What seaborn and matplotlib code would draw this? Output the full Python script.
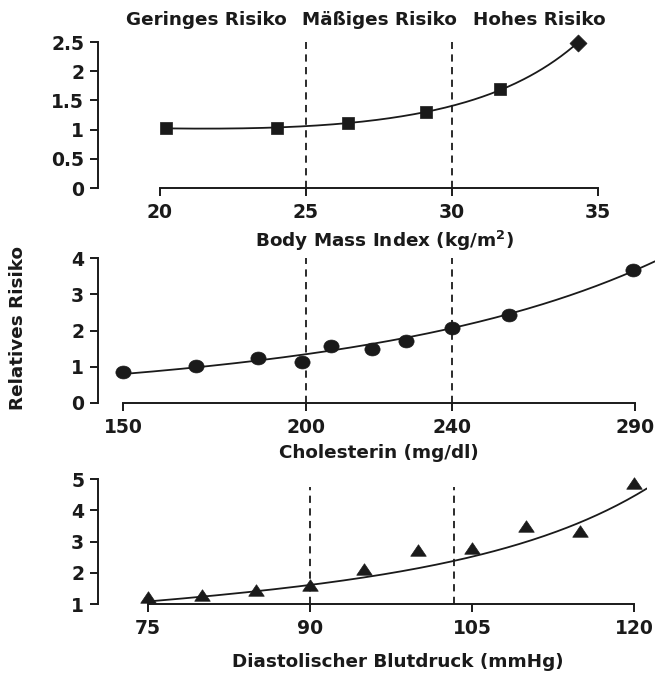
import numpy as np
import pandas as pd
import matplotlib
matplotlib.use("Agg")
import matplotlib.pyplot as plt
import matplotlib.transforms as mtransforms
from matplotlib.path import Path
from matplotlib.ticker import FuncFormatter
import seaborn as sns

# ---------------- data ----------------
bmi_x = [20.2, 24.0, 26.45, 29.1, 31.65, 34.3]
bmi_rr = [1.02, 1.03, 1.11, 1.30, 1.69, 2.48]
bmi_marker = ["s", "s", "s", "s", "s", "D"]
bmi_fit_x = [20.2, 24.0, 25.0, 26.45, 29.1, 30.0, 31.65, 34.3]
bmi_fit_y = [1.02, 1.04, 1.06, 1.11, 1.30, 1.40, 1.69, 2.48]
bmi_cut = [25, 30]
bmi_ticks = [20, 25, 30, 35]
bmi_yticks = [0, 0.5, 1, 1.5, 2, 2.5]

chol_x = [150, 170, 187, 199, 207, 218, 227.5, 240, 255.5, 289.5]
chol_rr = [0.85, 1.01, 1.23, 1.12, 1.56, 1.48, 1.70, 2.08, 2.44, 3.67]
chol_fit_x = [150, 200, 240, 290, 295.5]
chol_fit_y = [0.80, 1.34, 2.08, 3.59, 3.97]
chol_cut = [200, 240]
chol_ticks = [150, 200, 240, 290]
chol_yticks = [0, 1, 2, 3, 4]

bp_x = [75, 80, 85, 90, 95, 100, 105, 110, 115, 120]
bp_rr = [1.22, 1.29, 1.45, 1.61, 2.12, 2.73, 2.79, 3.50, 3.34, 4.87]
bp_fit_x = [75, 80, 85, 90, 95, 100, 105, 110, 115, 120, 121.2]
bp_fit_y = [1.10, 1.21, 1.39, 1.58, 1.93, 2.17, 2.51, 2.95, 3.53, 4.49, 4.74]
bp_cut = [90, 103.3]
bp_ticks = [75, 90, 105, 120]
bp_yticks = [1, 2, 3, 4, 5]

risk_labels = ["Geringes Risiko", "Mäßiges Risiko", "Hohes Risiko"]
risk_label_x = [21.6, 27.5, 33.0]

xlabels = ["Body Mass Index (kg/m$^2$)", "Cholesterin (mg/dl)",
           "Diastolischer Blutdruck (mmHg)"]
ylabel = "Relatives Risiko"

# ---------------- style ----------------
sns.set_theme(style="ticks")
plt.rcParams["font.family"] = ["DejaVu Sans"]
plt.rcParams["font.weight"] = "bold"
plt.rcParams["axes.labelweight"] = "bold"
INK = "#1a1a1a"

# slightly wide markers (the reference is a little stretched horizontally)
ELLIPSE = Path.unit_circle().transformed(mtransforms.Affine2D().scale(1.18, 1.0))
WIDE_TRI = Path([(0, 0.85), (-1.15, -0.85), (1.15, -0.85), (0, 0.85)],
                [Path.MOVETO, Path.LINETO, Path.LINETO, Path.CLOSEPOLY])

W, H = 658, 675
fig = plt.figure(figsize=(W / 100, H / 100), dpi=100)
fig.patch.set_facecolor("white")


def px_axes(left, top, right, bottom):
    return fig.add_axes([left / W, 1 - bottom / H, (right - left) / W, (bottom - top) / H])


def fit_curve(xs, ys, n=200):
    xs = np.asarray(xs, float)
    coef = np.polyfit(xs, np.log(np.asarray(ys, float)), 3)
    grid = np.linspace(xs.min(), xs.max(), n)
    return pd.DataFrame({"x": grid, "y": np.exp(np.polyval(coef, grid))})


def style_axis(ax, xlim, ylim, xticks, yticks, xbounds, ybounds):
    ax.set_facecolor("white")
    ax.set_xlim(*xlim)
    ax.set_ylim(*ylim)
    ax.set_xticks(xticks)
    ax.set_yticks(yticks)
    ax.yaxis.set_major_formatter(FuncFormatter(lambda v, p: f"{v:g}"))
    ax.xaxis.set_major_formatter(FuncFormatter(lambda v, p: f"{v:g}"))
    for s in ["top", "right"]:
        ax.spines[s].set_visible(False)
    for s in ["left", "bottom"]:
        ax.spines[s].set_color(INK)
        ax.spines[s].set_linewidth(1.4)
    ax.spines["bottom"].set_bounds(*xbounds)
    ax.spines["left"].set_bounds(*ybounds)
    ax.tick_params(axis="both", direction="out", length=6, width=1.4,
                   color=INK, labelcolor=INK, labelsize=13.5)
    ax.tick_params(axis="y", pad=4)
    ax.tick_params(axis="x", pad=5)
    ax.grid(False)
    ax.set_xlabel("")
    ax.set_ylabel("")


# ---------------- top: BMI ----------------
ax1 = px_axes(98, 42, 598, 188)
fit1 = fit_curve(bmi_fit_x, bmi_fit_y)
sns.lineplot(data=fit1, x="x", y="y", ax=ax1, color=INK, lw=1.3, zorder=2)
for xv, yv, mk in zip(bmi_x, bmi_rr, bmi_marker):
    sns.scatterplot(x=[xv], y=[yv], ax=ax1, marker=mk, s=70 if mk == "s" else 75,
                    color=INK, edgecolor=INK, linewidth=0.5, zorder=3, clip_on=False)
ax1.vlines(bmi_cut, 0, 2.53, colors=INK, linestyles=(0, (4, 3)), lw=1.3, zorder=1)
style_axis(ax1, (17.88, 35.0), (0, 2.5), bmi_ticks, bmi_yticks, (20, 35), (0, 2.5))
trans = mtransforms.blended_transform_factory(ax1.transData, ax1.transAxes)
for lbl, xv in zip(risk_labels, risk_label_x):
    ax1.text(xv, 1.15, lbl, transform=trans, ha="center", va="center",
             fontsize=13.2, fontweight="bold", color=INK)
ax1.set_xlabel(xlabels[0], fontsize=13.2, color=INK)
ax1.xaxis.set_label_coords((384 - 98) / 500, -(241 - 188) / 146)
ax1.xaxis.label.set_va("center")

# ---------------- middle: Cholesterol ----------------
ax2 = px_axes(98, 258, 655, 403)
fit2 = fit_curve(chol_fit_x, chol_fit_y)
sns.lineplot(data=fit2, x="x", y="y", ax=ax2, color=INK, lw=1.3, zorder=2)
sns.scatterplot(x=chol_x, y=chol_rr, ax=ax2, marker=ELLIPSE, s=120, color=INK,
                edgecolor=INK, linewidth=0.5, zorder=3, clip_on=False)
ax2.vlines(chol_cut, 0, 4, colors=INK, linestyles=(0, (4, 3)), lw=1.3, zorder=1)
style_axis(ax2, (143.16, 295.5), (0, 4), chol_ticks, chol_yticks, (150, 290), (0, 4))
ax2.set_xlabel(xlabels[1], fontsize=13.2, color=INK)
ax2.xaxis.set_label_coords((379 - 98) / 557, -(453 - 403) / 145)
ax2.xaxis.label.set_va("center")
ax2.set_ylabel(ylabel, fontsize=13.2, color=INK)
ax2.yaxis.set_label_coords((18 - 98) / 557, (403 - 328) / 145)
ax2.yaxis.label.set_va("center")

# ---------------- bottom: Blood pressure ----------------
ax3 = px_axes(98, 479, 647, 604)
fit3 = fit_curve(bp_fit_x, bp_fit_y)
sns.lineplot(data=fit3, x="x", y="y", ax=ax3, color=INK, lw=1.3, zorder=2)
sns.scatterplot(x=bp_x, y=bp_rr, ax=ax3, marker=WIDE_TRI, s=125, color=INK,
                edgecolor=INK, linewidth=0.5, zorder=3, clip_on=False)
ax3.vlines(bp_cut, 1, 4.75, colors=INK, linestyles=(0, (4, 3)), lw=1.3, zorder=1)
style_axis(ax3, (70.37, 121.2), (1, 5), bp_ticks, bp_yticks, (75, 120), (1, 5))
ax3.set_xlabel(xlabels[2], fontsize=13.2, color=INK)
ax3.xaxis.set_label_coords((398 - 98) / 549, -(662 - 604) / 125)
ax3.xaxis.label.set_va("center")

for ax in (ax1, ax2, ax3):
    if ax.get_legend():
        ax.get_legend().remove()

fig.savefig("out.png", dpi=100, facecolor="white")
